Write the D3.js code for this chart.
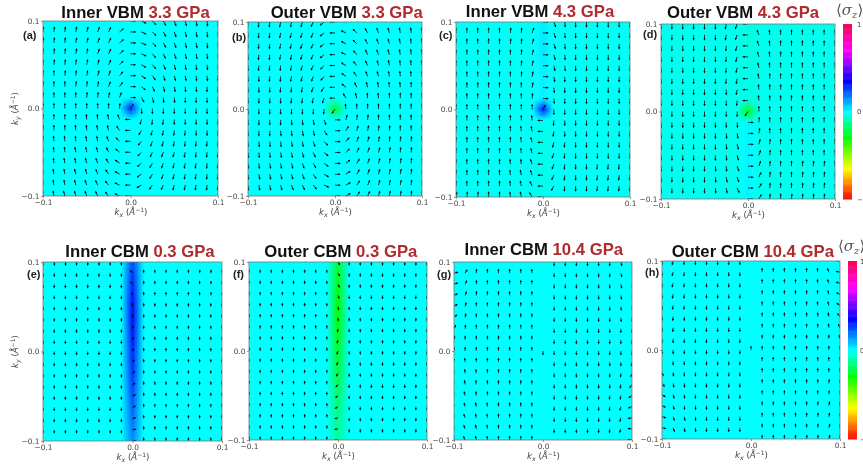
<!DOCTYPE html>
<html><head><meta charset="utf-8">
<script src="https://cdnjs.cloudflare.com/ajax/libs/d3/7.8.5/d3.min.js"></script>
<style>html,body{margin:0;padding:0;background:#fff;overflow:hidden}svg{display:block;filter:blur(0.55px)}</style>
</head><body><svg id="c" width="863" height="469"></svg>
<script>
const bands=["Inner VBM ","Outer VBM ","Inner VBM ","Outer VBM ","Inner CBM ","Outer CBM ","Inner CBM ","Outer CBM "];
const pressures=["3.3 GPa","3.3 GPa","4.3 GPa","4.3 GPa","0.3 GPa","0.3 GPa","10.4 GPa","10.4 GPa"];
const letters=["(a)","(b)","(c)","(d)","(e)","(f)","(g)","(h)"];
const kTicks=[-0.1,0,0.1];
const kGrid=[-0.1,-0.0875,-0.075,-0.0625,-0.05,-0.0375,-0.025,-0.0125,0,0.0125,0.025,0.0375,0.05,0.0625,0.075,0.0875,0.1];
const cbTicks=[1,0,-1];
const sigmaStops=[-1,-0.65,-0.3,0,0.35,0.7,1];
const colorStops=["#ff0000","#ffff00","#00ff00","#00ffff","#0000ff","#ff00ff","#ff0050"];
// sigma_z: background level and values along the kx=0 column, ky from +0.1 to -0.1
const sigmaBase=[0,0,-0.01,-0.02,0,0,0,0];
const sigmaA=[0,0,0,0,0,0,0,0,.3,0,0,0,0,0,0,0,0];
const sigmaB=[0,0,0,0,0,0,0,0,-.26,0,0,0,0,0,0,0,0];
const sigmaC=[.02,.025,.03,.025,.02,.02,.015,.015,.32,-.015,-.02,-.025,-.025,-.025,-.025,-.02,-.02];
const sigmaD=[-.035,-.04,-.04,-.035,-.03,-.03,-.03,-.03,-.27,.01,.015,.015,.015,.015,.015,.015,.015];
const sigmaE=[.26,.28,.3,.32,.34,.34,.33,.32,.3,.29,.28,.26,.24,.22,.2,.18,.16];
const sigmaF=[-.24,-.26,-.28,-.29,-.3,-.3,-.29,-.27,-.25,-.24,-.22,-.2,-.18,-.16,-.14,-.13,-.12];
const sigmaG=[0,0,0,0,0,0,0,0,0,0,0,0,0,0,0,0,0];
const sigmaH=[0,0,0,0,0,0,0,0,0,0,0,0,0,0,0,0,0];
// spin direction in degrees (90 = +ky), rows ky +0.1 -> -0.1, columns kx -0.1 -> +0.1
const anglesA=[
[85,85,85,80,80,75,65,40,0,-25,-45,-60,-70,-75,-80,-85,-85],
[85,85,85,80,75,70,65,40,0,-25,-45,-60,-70,-75,-80,-85,-85],
[85,85,85,80,75,70,65,40,0,-25,-45,-60,-70,-75,-80,-85,-85],
[90,85,85,80,80,70,65,40,0,-25,-50,-65,-70,-75,-80,-85,-85],
[90,85,85,85,80,75,65,45,0,-30,-50,-65,-75,-80,-85,-85,-85],
[90,90,85,85,80,75,70,50,0,-35,-55,-70,-75,-80,-85,-85,-90],
[90,90,90,85,85,80,70,55,0,-40,-65,-75,-80,-85,-85,-90,-90],
[90,90,90,90,85,85,80,70,0,-60,-75,-85,-85,-90,-90,-90,-90],
[90,90,90,90,90,90,90,85,55,-85,-90,-90,-90,-90,-90,-90,-90],
[90,90,90,90,95,95,100,110,180,-105,-95,-95,-90,-90,-90,-90,-90],
[90,90,90,95,95,100,105,125,180,-120,-105,-100,-95,-95,-90,-90,-90],
[90,95,95,95,100,100,110,135,180,-130,-110,-105,-100,-95,-95,-95,-90],
[95,95,95,100,100,105,115,140,180,-135,-115,-110,-105,-100,-95,-95,-95],
[95,95,100,100,105,110,120,145,180,-140,-120,-110,-105,-100,-100,-95,-95],
[95,100,100,105,105,110,125,150,180,-145,-120,-110,-105,-100,-100,-95,-95],
[95,100,100,105,110,115,130,155,180,-150,-125,-115,-105,-100,-100,-95,-95],
[95,100,105,105,110,115,130,155,180,-150,-125,-115,-105,-100,-100,-95,-95]];
const anglesB=[
[-95,-95,-95,-100,-100,-105,-115,-140,180,155,135,120,110,105,100,95,95],
[-95,-95,-95,-100,-105,-110,-115,-140,180,155,135,120,110,105,100,95,95],
[-95,-95,-95,-100,-105,-110,-115,-140,180,155,135,120,110,105,100,95,95],
[-90,-95,-95,-100,-100,-110,-115,-140,180,155,130,115,110,105,100,95,95],
[-90,-95,-95,-95,-100,-105,-115,-135,180,150,130,115,105,100,95,95,95],
[-90,-90,-95,-95,-100,-105,-110,-130,180,145,125,110,105,100,95,95,90],
[-90,-90,-90,-95,-95,-100,-110,-125,180,140,115,105,100,95,95,90,90],
[-90,-90,-90,-90,-95,-95,-100,-110,180,120,105,95,95,90,90,90,90],
[-90,-90,-90,-90,-90,-90,-90,-95,-125,95,90,90,90,90,90,90,90],
[-90,-90,-90,-90,-85,-85,-80,-70,0,75,85,85,90,90,90,90,90],
[-90,-90,-90,-85,-85,-80,-75,-55,0,60,75,80,85,85,90,90,90],
[-90,-85,-85,-85,-80,-80,-70,-45,0,50,70,75,80,85,85,85,90],
[-85,-85,-85,-80,-80,-75,-65,-40,0,45,65,70,75,80,85,85,85],
[-85,-85,-80,-80,-75,-70,-60,-35,0,40,60,70,75,80,80,85,85],
[-85,-80,-80,-75,-75,-70,-55,-30,0,35,60,70,75,80,80,85,85],
[-85,-80,-80,-75,-70,-65,-50,-25,0,30,55,65,75,80,80,85,85],
[-85,-80,-75,-75,-70,-65,-50,-25,0,30,55,65,75,80,80,85,85]];
const anglesC=[
[90,90,90,90,90,90,85,70,0,-70,-85,-90,-90,-90,-90,-90,-90],
[90,90,90,90,90,85,85,70,0,-70,-85,-90,-90,-90,-90,-90,-90],
[90,90,90,90,90,85,85,72,0,-72,-85,-90,-90,-90,-90,-90,-90],
[90,90,90,90,90,90,85,75,0,-75,-85,-90,-90,-90,-90,-90,-90],
[90,90,90,90,90,90,85,78,0,-78,-85,-90,-90,-90,-90,-90,-90],
[90,90,90,90,90,90,85,80,0,-80,-90,-90,-90,-90,-90,-90,-90],
[90,90,90,90,90,90,90,80,0,-85,-90,-90,-90,-90,-90,-90,-90],
[90,90,90,90,90,90,90,85,0,-85,-90,-90,-90,-90,-90,-90,-90],
[90,90,90,90,90,90,90,90,60,-90,-90,-90,-90,-90,-90,-90,-90],
[90,90,90,90,90,90,90,95,180,-95,-90,-90,-90,-90,-90,-90,-90],
[90,90,90,90,90,90,95,100,180,-100,-90,-90,-90,-90,-90,-90,-90],
[90,90,90,90,90,90,95,105,180,-105,-95,-90,-90,-90,-90,-90,-90],
[90,90,90,90,90,90,95,105,180,-110,-95,-90,-90,-90,-90,-90,-90],
[90,90,90,90,90,95,95,110,180,-110,-95,-90,-90,-95,-95,-95,-90],
[90,90,90,90,90,95,100,110,180,-115,-95,-90,-90,-95,-95,-95,-95],
[90,90,90,90,90,95,100,115,180,-120,-95,-90,-90,-95,-95,-95,-95],
[80,85,85,90,90,95,100,120,180,-120,-95,-90,-95,-95,-95,-95,-95]];
const anglesD=[
[-90,-90,-90,-90,-90,-90,-100,-110,180,110,95,90,90,90,90,90,90],
[-90,-90,-90,-90,-90,-90,-100,-110,180,110,95,90,90,90,90,90,90],
[-90,-90,-90,-90,-90,-90,-95,-108,180,108,95,90,90,90,90,90,90],
[-90,-90,-90,-90,-90,-90,-95,-105,180,105,95,90,90,90,90,90,90],
[-90,-90,-90,-90,-90,-90,-95,-102,180,102,95,90,90,90,90,90,90],
[-90,-90,-90,-90,-90,-90,-95,-100,180,100,90,90,90,90,90,90,90],
[-90,-90,-90,-90,-90,-90,-90,-100,180,95,90,90,90,90,90,90,90],
[-90,-90,-90,-90,-90,-90,-90,-95,180,95,90,90,90,90,90,90,90],
[-90,-90,-90,-90,-90,-90,-90,-90,-125,90,90,90,90,90,90,90,90],
[-90,-90,-90,-90,-90,-90,-90,-85,0,85,90,90,90,90,90,90,90],
[-90,-90,-90,-90,-90,-90,-85,-80,0,80,90,90,90,90,90,90,90],
[-90,-90,-90,-90,-90,-90,-85,-75,0,75,85,90,90,90,90,90,90],
[-90,-90,-90,-90,-90,-90,-85,-75,0,70,85,90,90,90,90,90,90],
[-90,-90,-90,-90,-90,-85,-85,-70,0,70,85,90,90,85,85,85,90],
[-90,-90,-90,-90,-90,-85,-80,-70,0,65,85,90,90,85,85,85,85],
[-90,-90,-90,-90,-90,-85,-80,-65,0,60,85,90,90,85,85,85,85],
[-100,-95,-95,-90,-90,-85,-80,-60,0,60,85,90,85,85,85,85,85]];
const anglesE=[
[-90,-85,-85,-90,-90,-90,-90,-90,140,90,90,90,90,90,85,85,85],
[-90,-88,-90,-90,-90,-90,-90,-90,130,90,90,90,90,90,85,85,85],
[-90,-90,-90,-90,-90,-90,-90,-90,120,90,90,90,90,90,90,85,85],
[-90,-90,-90,-90,-90,-90,-90,-90,110,90,90,90,90,90,90,85,85],
[-90,-90,-90,-90,-90,-90,-90,-90,100,90,90,90,90,90,90,90,90],
[-90,-90,-90,-90,-90,-90,-90,-90,90,90,90,90,90,90,90,90,90],
[-90,-90,-90,-90,-90,-90,-90,-90,85,90,90,90,90,90,90,90,90],
[-90,-90,-90,-90,-90,-90,-90,-90,75,90,90,90,90,90,90,90,90],
[-90,-90,-90,-90,-90,-90,-90,-90,70,90,90,90,90,90,90,90,90],
[-90,-90,-90,-90,-90,-90,-90,-90,60,90,90,90,90,90,90,90,90],
[-90,-90,-90,-90,-90,-90,-90,-90,50,90,90,90,90,90,90,90,90],
[-90,-90,-90,-90,-90,-90,-90,-90,40,90,90,90,90,90,90,90,90],
[-90,-90,-90,-90,-90,-90,-90,-90,30,90,90,90,90,90,90,90,90],
[-90,-90,-90,-90,-90,-90,-90,-90,25,90,90,90,90,90,90,90,90],
[-90,-90,-90,-90,-90,-90,-90,-90,15,90,90,90,90,90,90,90,95],
[-90,-90,-90,-90,-90,-90,-90,-90,10,90,90,90,90,90,90,90,95],
[-90,-90,-90,-90,-90,-90,-90,-90,5,90,90,90,90,90,90,90,95]];
const anglesF=[
[90,90,90,90,90,90,90,90,-60,-90,-90,-90,-90,-90,-90,-90,-90],
[90,90,90,90,90,90,90,90,-60,-90,-90,-90,-90,-90,-90,-90,-90],
[90,90,90,90,90,90,90,90,-65,-90,-90,-90,-90,-90,-90,-90,-90],
[90,90,90,90,90,90,90,90,-70,-90,-90,-90,-90,-90,-90,-90,-90],
[90,90,90,90,90,90,90,90,-80,-90,-90,-90,-90,-90,-90,-90,-90],
[90,90,90,90,90,90,90,90,-90,-90,-90,-90,-90,-90,-90,-90,-90],
[90,90,90,90,90,90,90,90,-100,-90,-90,-90,-90,-90,-90,-90,-90],
[90,90,90,90,90,90,90,90,-105,-90,-90,-90,-90,-90,-90,-90,-90],
[90,90,90,90,90,90,90,90,-110,-90,-90,-90,-90,-90,-90,-90,-90],
[90,90,90,90,90,90,90,90,-115,-90,-90,-90,-90,-90,-90,-90,-90],
[90,90,90,90,90,90,90,90,-120,-90,-90,-90,-90,-90,-90,-90,-90],
[90,90,90,90,90,90,90,90,-130,-90,-90,-90,-90,-90,-90,-90,-90],
[90,90,90,90,90,90,90,90,-140,-90,-90,-90,-90,-90,-90,-90,-90],
[90,90,90,90,90,90,90,90,-150,-90,-90,-90,-90,-90,-90,-90,-90],
[90,90,90,90,90,90,90,90,-160,-90,-90,-90,-90,-90,-90,-90,-90],
[90,90,90,90,90,90,90,90,-170,-90,-90,-90,-90,-90,-90,-90,-90],
[90,90,90,90,90,90,90,90,-175,-90,-90,-90,-90,-90,-90,-90,-90]];
const anglesG=[
[15,60,85,90,90,90,90,90,null,-90,-90,-90,-90,-90,-90,-75,-70],
[12,60,85,90,90,90,90,90,null,-90,-90,-90,-90,-90,-90,-75,-70],
[20,65,85,90,90,90,90,90,null,-90,-90,-90,-90,-90,-90,-78,-75],
[25,70,85,90,90,90,90,90,null,-90,-90,-90,-90,-90,-90,-80,-75],
[35,75,90,90,90,90,90,90,null,-90,-90,-90,-90,-90,-90,-85,-80],
[45,80,90,90,90,90,90,90,null,-90,-90,-90,-90,-90,-90,-85,-85],
[65,85,90,90,90,90,90,90,null,-90,-90,-90,-90,-90,-90,-90,-90],
[80,90,90,90,90,90,90,90,null,-90,-90,-90,-90,-90,-90,-90,-90],
[90,90,90,90,90,90,90,90,-90,-90,-90,-90,-90,-90,-90,-90,-90],
[95,95,90,90,90,90,90,90,null,-90,-90,-90,-90,-90,-90,-90,-100],
[100,95,95,90,90,90,90,90,null,-90,-90,-90,-90,-90,-90,-95,-110],
[100,100,95,90,90,90,90,90,null,-90,-90,-90,-90,-90,-90,-100,-125],
[100,105,95,90,90,90,90,90,null,-90,-90,-90,-90,-90,-95,-100,-145],
[100,105,100,95,90,90,90,90,null,-90,-90,-90,-90,-90,-95,-105,-160],
[100,110,100,95,90,90,90,90,null,-90,-90,-90,-90,-90,-95,-105,-170],
[100,110,100,95,90,90,90,90,null,-90,-90,-90,-90,-90,-95,-110,175],
[100,115,100,95,90,90,90,90,null,-90,-90,-90,-90,-90,-100,-110,175]];
const anglesH=[
[-90,-105,-95,-90,-90,-90,-90,-90,null,90,90,90,90,90,95,105,170],
[-90,-105,-95,-90,-90,-90,-90,-90,null,90,90,90,90,90,95,110,170],
[-90,-105,-95,-90,-90,-90,-90,-90,null,90,90,90,90,90,95,110,165],
[-90,-100,-95,-90,-90,-90,-90,-90,null,90,90,90,90,90,95,105,155],
[-90,-100,-95,-90,-90,-90,-90,-90,null,90,90,90,90,90,95,105,145],
[-90,-95,-90,-90,-90,-90,-90,-90,null,90,90,90,90,90,90,100,130],
[-90,-95,-90,-90,-90,-90,-90,-90,null,90,90,90,90,90,90,95,115],
[-90,-90,-90,-90,-90,-90,-90,-90,null,90,90,90,90,90,90,90,105],
[-90,-90,-90,-90,-90,-90,-90,-90,90,90,90,90,90,90,90,90,90],
[-110,-90,-90,-90,-90,-90,-90,-90,null,90,90,90,90,90,90,90,90],
[-70,-85,-90,-90,-90,-90,-90,-90,null,90,90,90,90,90,90,90,90],
[-50,-80,-85,-90,-90,-90,-90,-90,null,90,90,90,90,90,90,85,85],
[-35,-75,-85,-90,-90,-90,-90,-90,null,90,90,90,90,90,90,85,85],
[-25,-75,-85,-85,-90,-90,-90,-90,null,90,90,90,90,90,85,80,85],
[-15,-70,-80,-85,-90,-90,-90,-90,null,90,90,90,90,90,85,80,85],
[-10,-70,-80,-85,-90,-90,-90,-90,null,90,90,90,90,90,85,75,85],
[-10,-70,-80,-85,-90,-90,-90,-90,null,90,90,90,90,85,85,75,85]];
const allAngles=[anglesA,anglesB,anglesC,anglesD,anglesE,anglesF,anglesG,anglesH];
const allSigma=[sigmaA,sigmaB,sigmaC,sigmaD,sigmaE,sigmaF,sigmaG,sigmaH];

// layout
const frames=[[43,218,21,196],[248,422,22,196],[456,630,22,197],[661,835,24,199],[43,222,262,441],[249,427,262,440],[454,632,262,440],[662,840,261,439]];
const titleAt=[[135.5,18],[346.7,18],[540,17],[743,18],[140,256.6],[340.8,256.6],[543.8,255],[752.8,256.6]];
const letterAt=[[23,39],[232,41],[439,39],[643,38],[27,278],[233,278],[437,278],[645,276]];
const arrowLen=[5.8,5.8,5.8,5.8,4,4,4.6,4.6];
const bars=[[843,852,24,199,836,15,857],[848,857,261,439,838,251,860]];

const svg=d3.select("#c");
const defs=svg.append("defs");
const colour=d3.scaleLinear().domain(sigmaStops).range(colorStops).clamp(true);
const TICK="DejaVu Sans";

frames.forEach((f,p)=>{
  const x=d3.scaleLinear().domain([-0.1,0.1]).range([f[0],f[1]]);
  const y=d3.scaleLinear().domain([-0.1,0.1]).range([f[3],f[2]]);
  const g=svg.append("g");
  const id="clip"+p;
  defs.append("clipPath").attr("id",id).append("rect").attr("x",f[0]).attr("y",f[2]).attr("width",f[1]-f[0]).attr("height",f[3]-f[2]);
  const plot=g.append("g").attr("clip-path",`url(#${id})`);
  const base=sigmaBase[p], col=allSigma[p];
  plot.append("rect").attr("x",x(-0.1)).attr("y",y(0.1)).attr("width",x(0.1)-x(-0.1)).attr("height",y(-0.1)-y(0.1)).attr("fill",colour(base));
  // colour field around the kx=0 column, shaded between grid nodes
  const step=0.0125, sub=8, cells=[];
  for(let i=0;i<16;i++){
    if(col[i]===base&&col[i+1]===base) continue;
    for(let a=0;a<sub;a++)for(let b=-sub;b<sub;b++){
      const t=(a+.5)/sub, w=1-Math.abs(b+.5)/sub;
      const c=col[i]+(col[i+1]-col[i])*t;
      cells.push({kx:b*step/sub,ky:kGrid[16-i]-a*step/sub,v:base+(c-base)*w});
    }
  }
  plot.selectAll("rect.c").data(cells).join("rect").attr("class","c")
    .attr("x",d=>x(d.kx)).attr("y",d=>y(d.ky))
    .attr("width",x(step/sub)-x(0)+.5).attr("height",y(0)-y(step/sub)+.5)
    .attr("fill",d=>colour(d.v));
  // arrows
  const L=arrowLen[p], arrows=[];
  allAngles[p].forEach((row,i)=>row.forEach((a,j)=>{if(a!==null)arrows.push({kx:kGrid[j],ky:kGrid[16-i],a});}));
  const ag=plot.selectAll("g.a").data(arrows).join("g").attr("class","a")
    .attr("transform",d=>`translate(${x(d.kx)},${y(d.ky)}) rotate(${-d.a})`);
  ag.append("line").attr("x1",0).attr("x2",L-1.8).attr("y1",0).attr("y2",0).attr("stroke","#000").attr("stroke-width",.75);
  ag.append("path").attr("d",`M${L},0L${L-2.4},-1.1L${L-2.4},1.1Z`).attr("fill","#000");
  // axes
  const ax=g.append("g").attr("transform",`translate(0,${f[3]})`).call(d3.axisBottom(x).tickValues(kTicks).tickFormat(d3.format(".1f")).tickSize(2).tickPadding(1.5));
  const ay=g.append("g").attr("transform",`translate(${f[0]},0)`).call(d3.axisLeft(y).tickValues(kTicks).tickFormat(d3.format(".1f")).tickSize(2).tickPadding(1.5));
  [ax,ay].forEach(a=>{a.selectAll("text").attr("font-family",TICK).attr("font-size",7.4).attr("fill","#444");
    a.selectAll("line").attr("stroke","#666").attr("stroke-width",.7);a.select(".domain").remove();});
  g.append("rect").attr("x",f[0]).attr("y",f[2]).attr("width",f[1]-f[0]).attr("height",f[3]-f[2]).attr("fill","none").attr("stroke","#777").attr("stroke-width",.8);
  // x label
  const lab=(sel,sub)=>{
    sel.attr("font-family",TICK).attr("font-size",8.6).attr("fill","#444").attr("text-anchor","middle");
    sel.append("tspan").attr("font-style","italic").text("k");
    sel.append("tspan").attr("font-style","italic").attr("font-size",6.2).attr("dy",1.6).text(sub);
    sel.append("tspan").attr("dy",-1.6).text(" (");
    sel.append("tspan").attr("font-style","italic").text("Å");
    sel.append("tspan").attr("font-size",6).attr("dy",-3).text("−1");
    sel.append("tspan").attr("dy",3).text(")");
  };
  g.append("text").attr("x",(f[0]+f[1])/2+.5).attr("y",f[3]+19).call(lab,"x");
  if(p===0||p===4) g.append("text").attr("transform",`translate(18,${(f[2]+f[3])/2}) rotate(-90)`).call(lab,"y");
  // title + letter
  const t=g.append("text").attr("x",titleAt[p][0]).attr("y",titleAt[p][1]).attr("text-anchor","middle")
    .attr("font-family","Liberation Sans").attr("font-weight","bold").attr("font-size",16.7);
  t.append("tspan").attr("fill","#111").text(bands[p]);
  t.append("tspan").attr("fill","#b02a2e").text(pressures[p]);
  g.append("text").attr("x",letterAt[p][0]).attr("y",letterAt[p][1]).attr("font-family","Liberation Sans").attr("font-weight","bold").attr("font-size",11).attr("fill","#222").text(letters[p]);
});

// colour bars
bars.forEach(b=>{
  const s=d3.scaleLinear().domain([-1,1]).range([b[3],b[2]]);
  const g=svg.append("g");
  const vals=d3.range(-1,1,0.01);
  g.selectAll("rect").data(vals).join("rect").attr("x",b[0]).attr("width",b[1]-b[0])
    .attr("y",d=>s(d+0.01)).attr("height",s(0)-s(0.01)+.5).attr("fill",d=>colour(d+0.005));
  g.selectAll("text.t").data(cbTicks).join("text").attr("class","t").attr("x",b[6]).attr("y",d=>s(d)+2.5)
    .attr("font-family",TICK).attr("font-size",6.8).attr("fill","#444").text(d=>d<0?"−1":String(d));
  const l=g.append("text").attr("x",b[4]).attr("y",b[5]).attr("font-family","DejaVu Serif").attr("font-size",15).attr("fill","#555");
  l.append("tspan").text("⟨");
  l.append("tspan").attr("font-style","italic").text("σ");
  l.append("tspan").attr("font-style","italic").attr("font-size",10).attr("dy",3).text("z");
  l.append("tspan").attr("dy",-3).text("⟩");
});
</script></body></html>
